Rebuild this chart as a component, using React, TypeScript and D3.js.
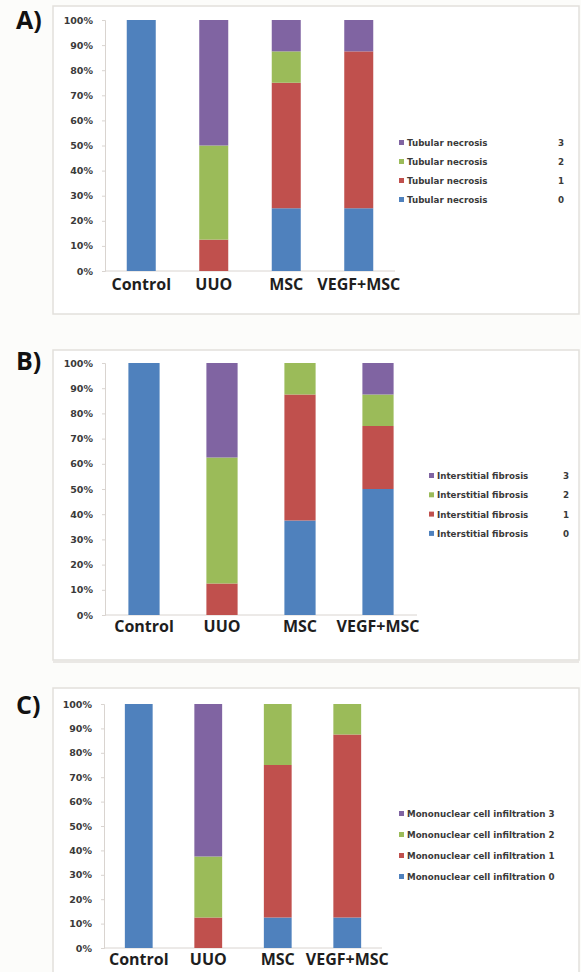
import React, { useEffect, useRef } from 'react';
import * as d3 from 'd3';

const width = 581;
const height = 972;

const groups = ['Control', 'UUO', 'MSC', 'VEGF+MSC'];
const grades = ['0', '1', '2', '3'];
const colors = ['#4f81bd', '#c0504d', '#9bbb59', '#8064a2'];
const yTicks = [0, 0.1, 0.2, 0.3, 0.4, 0.5, 0.6, 0.7, 0.8, 0.9, 1];

// percent of animals per grade, one array per grade (Control, UUO, MSC, VEGF+MSC)
const necrosis0 = [100, 0, 25, 25];
const necrosis1 = [0, 12.5, 50, 62.5];
const necrosis2 = [0, 37.5, 12.5, 0];
const necrosis3 = [0, 50, 12.5, 12.5];

const fibrosis0 = [100, 0, 37.5, 50];
const fibrosis1 = [0, 12.5, 50, 25];
const fibrosis2 = [0, 50, 12.5, 12.5];
const fibrosis3 = [0, 37.5, 0, 12.5];

const infiltration0 = [100, 0, 12.5, 12.5];
const infiltration1 = [0, 12.5, 62.5, 75];
const infiltration2 = [0, 25, 25, 12.5];
const infiltration3 = [0, 62.5, 0, 0];

const panels = [
  {
    tag: 'A)', name: 'Tubular necrosis', series: [necrosis0, necrosis1, necrosis2, necrosis3],
    box: [53, 6, 579, 314], x: [105, 395], y: [271, 20], tagY: 29, catY: 290,
    legX: 402, legY: 143, legStep: 19, numX: 558, inline: false,
  },
  {
    tag: 'B)', name: 'Interstitial fibrosis', series: [fibrosis0, fibrosis1, fibrosis2, fibrosis3],
    box: [53, 350, 579, 660], x: [105, 417], y: [615, 363], tagY: 370, catY: 632,
    legX: 432, legY: 476, legStep: 19.3, numX: 563, inline: false,
  },
  {
    tag: 'C)', name: 'Mononuclear cell infiltration', series: [infiltration0, infiltration1, infiltration2, infiltration3],
    box: [53, 688, 579, 990], x: [104, 382], y: [948, 704], tagY: 714, catY: 965,
    legX: 402, legY: 814, legStep: 21, numX: 0, inline: true,
  },
];

const smallFont = 'DejaVu Sans, sans-serif';
const bigFont = 'Open Sans, sans-serif';

const App = () => {
  const svgRef = useRef(null);

  useEffect(() => {
    const svg = d3.select(svgRef.current);
    svg.selectAll('*').remove();
    svg.append('rect').attr('width', width).attr('height', height).attr('fill', '#fcfcfa');

    // faint divider between B and C
    svg.append('line').attr('x1', 53).attr('x2', 579).attr('y1', 662).attr('y2', 662)
      .attr('stroke', '#e4e2de').attr('stroke-width', 1.5);

    panels.forEach(p => {
      const [bx0, by0, bx1, by1] = p.box;
      svg.append('rect')
        .attr('x', bx0).attr('y', by0).attr('width', bx1 - bx0).attr('height', by1 - by0)
        .attr('fill', '#ffffff').attr('stroke', '#e2e0dc').attr('stroke-width', 1.5);

      svg.append('text').attr('x', 16).attr('y', p.tagY)
        .attr('font-family', bigFont).attr('font-weight', 700)
        .attr('font-size', 25).attr('fill', '#111').text(p.tag);

      const x = d3.scaleBand().domain(groups).range(p.x).paddingInner(0.6).paddingOuter(0.3);
      const y = d3.scaleLinear().domain([0, 1]).range(p.y);

      const g = svg.append('g');

      const yAxis = g.append('g').attr('transform', `translate(${p.x[0]},0)`)
        .call(d3.axisLeft(y).tickValues(yTicks).tickSize(3).tickFormat(d3.format('.0%')));
      yAxis.select('.domain').attr('stroke', '#d9d4d0');
      yAxis.selectAll('.tick line').attr('stroke', '#d9d4d0');
      yAxis.selectAll('.tick text')
        .attr('x', -12)
        .attr('font-family', smallFont).attr('font-weight', 700)
        .attr('font-size', 9.5).attr('fill', '#3a3a3a');

      g.append('line').attr('x1', p.x[0]).attr('x2', p.x[1]).attr('y1', p.y[0]).attr('y2', p.y[0])
        .attr('stroke', '#d9d4d0');

      const rows = groups.map((grp, i) => {
        const r: any = { group: grp };
        p.series.forEach((s, k) => { r[grades[k]] = s[i] / 100; });
        return r;
      });
      const stacked = d3.stack().keys(grades)(rows);

      g.selectAll('g.layer').data(stacked).enter().append('g')
        .attr('fill', (d, k) => colors[k])
        .selectAll('rect').data(d => d).enter().append('rect')
        .attr('x', d => x(d.data.group))
        .attr('width', x.bandwidth())
        .attr('y', d => y(d[1]))
        .attr('height', d => y(d[0]) - y(d[1]));

      g.selectAll('text.cat').data(groups).enter().append('text')
        .attr('x', d => x(d) + x.bandwidth() / 2)
        .attr('y', p.catY)
        .attr('text-anchor', 'middle')
        .attr('font-family', bigFont).attr('font-weight', 700)
        .attr('font-size', 16).attr('fill', '#1e1e1e')
        .text(d => d);

      const legendOrder = [3, 2, 1, 0];
      const leg = g.selectAll('g.leg').data(legendOrder).enter().append('g')
        .attr('transform', (d, i) => `translate(${p.legX},${p.legY + i * p.legStep})`);
      leg.append('rect').attr('x', -3).attr('y', -3).attr('width', 5).attr('height', 5)
        .attr('fill', d => colors[d]);
      leg.append('text').attr('x', 5).attr('y', 3)
        .attr('font-family', smallFont).attr('font-weight', 700)
        .attr('font-size', 8.7).attr('fill', '#3a3a3a')
        .text(d => p.inline ? `${p.name} ${grades[d]}` : p.name);
      if (!p.inline) {
        leg.append('text').attr('x', p.numX - p.legX).attr('y', 3)
          .attr('font-family', smallFont).attr('font-weight', 700)
          .attr('font-size', 8.7).attr('fill', '#3a3a3a')
          .text(d => grades[d]);
      }
    });
  }, []);

  return (
    <svg ref={svgRef} width={width} height={height}
      style={{ position: 'absolute', left: 0, top: 0, display: 'block' }} />
  );
};

export default App;
